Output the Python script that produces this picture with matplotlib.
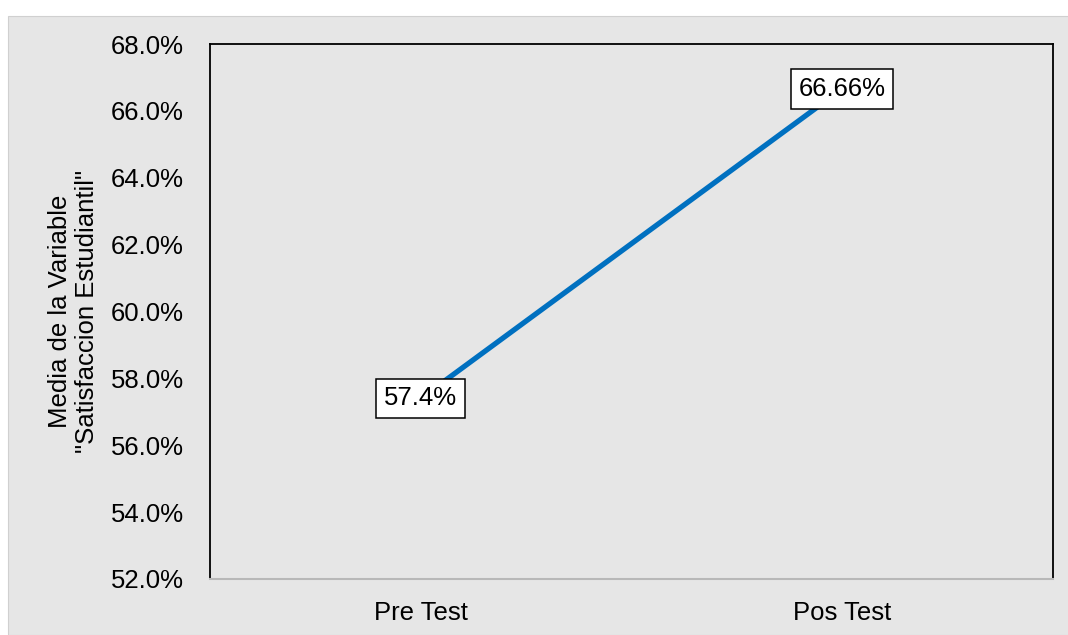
import matplotlib
matplotlib.use("Agg")
import matplotlib.pyplot as plt
from matplotlib.patches import Rectangle
from matplotlib.ticker import FuncFormatter

plt.rcParams["font.family"] = ["Liberation Sans", "DejaVu Sans"]

# data
fases = ["Pre Test", "Pos Test"]
medias = [57.4, 66.66]
etiquetas = ["57.4%", "66.66%"]
y_ticks = [52, 54, 56, 58, 60, 62, 64, 66, 68]

bg = "#e6e6e6"
fs = 18.5

fig = plt.figure(figsize=(10.68, 6.35), dpi=100)
fig.patch.set_facecolor("white")
# gray panel behind the chart
fig.patches.append(Rectangle((8 / 1068, 0), 1, (635 - 16) / 635,
                             transform=fig.transFigure, facecolor=bg,
                             edgecolor="#d0d0d0", linewidth=0.8, zorder=-10))

ax = fig.add_axes([210 / 1068, 56 / 635, 843 / 1068, 535 / 635])
ax.set_facecolor(bg)

x = [0, 1]
ax.plot(x, medias, color="#0070C0", linewidth=3.8, solid_capstyle="butt", zorder=2)

for xi, v, t in zip(x, medias, etiquetas):
    ax.text(xi, v, t, ha="center", va="center", fontsize=fs, zorder=3,
            bbox=dict(boxstyle="square,pad=0.3", facecolor="white",
                      edgecolor="black", linewidth=1.1))

ax.set_xlim(-0.5, 1.5)
ax.set_ylim(52, 68)
ax.set_xticks(x)
ax.set_xticklabels(fases, fontsize=fs)
ax.set_yticks(y_ticks)
ax.yaxis.set_major_formatter(FuncFormatter(lambda v, p: f"{v:.1f}%"))
ax.tick_params(axis="y", labelsize=fs, length=0, pad=19)
ax.tick_params(axis="x", length=0, pad=16)

for s in ["left", "top", "right"]:
    ax.spines[s].set_color("black")
    ax.spines[s].set_linewidth(1.3)
ax.spines["bottom"].set_color("#b8b8b8")
ax.spines["bottom"].set_linewidth(1.5)

ax.set_ylabel('Media de la Variable\n"Satisfaccion Estudiantil"', fontsize=fs,
              labelpad=8, linespacing=1.18)

fig.savefig("out.png", dpi=100, facecolor=fig.get_facecolor())
